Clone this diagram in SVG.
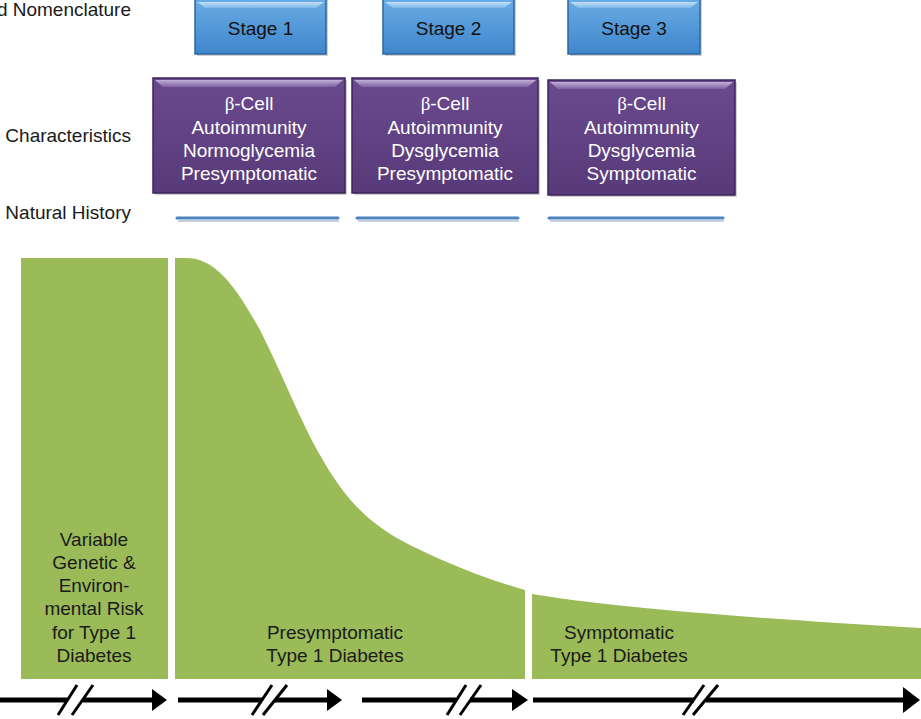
<svg xmlns="http://www.w3.org/2000/svg" width="921" height="719" viewBox="0 0 921 719">
<defs>
<linearGradient id="gBlue" x1="0" y1="0" x2="0" y2="1">
<stop offset="0" stop-color="#6caee6"/>
<stop offset="1" stop-color="#3f86cc"/>
</linearGradient>
<linearGradient id="gBlueHi" x1="0" y1="0" x2="0" y2="1">
<stop offset="0" stop-color="#c4e0f6"/>
<stop offset="1" stop-color="#7ab8ea"/>
</linearGradient>
<linearGradient id="gPurple" x1="0" y1="0" x2="0" y2="1">
<stop offset="0" stop-color="#6a4a8e"/>
<stop offset="1" stop-color="#583a7a"/>
</linearGradient>
<linearGradient id="gPurpleHi" x1="0" y1="0" x2="0" y2="1">
<stop offset="0" stop-color="#c2afd8"/>
<stop offset="1" stop-color="#7d62a0"/>
</linearGradient>
</defs>
<style>
text{font-family:"Liberation Sans",Arial,sans-serif;font-size:19px;}
.lbl{fill:#1a1a1a;text-anchor:end;}
.stage{fill:#111;text-anchor:middle;}
.char{fill:#ffffff;text-anchor:middle;}
.beta{font-family:"Liberation Serif","Times New Roman",serif;}
.gtxt{fill:#1a1a1a;text-anchor:middle;}
.bbox{fill:url(#gBlue);stroke:#2c66a0;stroke-width:1.5;}
.bhi{fill:url(#gBlueHi);}
.pbox{fill:url(#gPurple);stroke:#3b2458;stroke-width:1.5;}
.phi{fill:url(#gPurpleHi);}
.shadow{fill:#000;opacity:0.18;}
.green{fill:#9bbb59;}
.nh{stroke:#4d84bf;stroke-width:3;stroke-linecap:round;fill:none;}
.nhs{stroke:#9fb3c8;stroke-width:2;fill:none;opacity:0.6;}
.ax{stroke:#000;stroke-width:5;fill:none;}
.sl{stroke:#000;stroke-width:3;fill:none;}
.ah{fill:#000;}
</style>

<g id="labels">
<text class="lbl" x="131" y="16">d Nomenclature</text>
<text class="lbl" x="131" y="142">Characteristics</text>
<text class="lbl" x="131" y="219">Natural History</text>
</g>

<g id="stage1">
<rect class="shadow" x="197" y="-2" width="131" height="58"/>
<rect class="bbox" x="195" y="-4" width="131" height="58"/>
<polygon class="bhi" points="197,2 324,2 316,8 205,8"/>
<text class="stage" x="260.5" y="35">Stage 1</text>
</g>
<g id="stage2">
<rect class="shadow" x="385" y="-2" width="131" height="58"/>
<rect class="bbox" x="383" y="-4" width="131" height="58"/>
<polygon class="bhi" points="385,2 512,2 504,8 393,8"/>
<text class="stage" x="448.5" y="35">Stage 2</text>
</g>
<g id="stage3">
<rect class="shadow" x="570" y="-2" width="132" height="58"/>
<rect class="bbox" x="568" y="-4" width="132" height="58"/>
<polygon class="bhi" points="570,2 698,2 690,8 578,8"/>
<text class="stage" x="634" y="35">Stage 3</text>
</g>

<g id="char1">
<rect class="shadow" x="155" y="80" width="192" height="115"/>
<rect class="pbox" x="153" y="78" width="192" height="115"/>
<polygon class="phi" points="155,80 343,80 335,87 163,87"/>
<text class="char" x="249" y="110"><tspan class="beta">β</tspan>-Cell</text>
<text class="char" x="249" y="134">Autoimmunity</text>
<text class="char" x="249" y="157">Normoglycemia</text>
<text class="char" x="249" y="180">Presymptomatic</text>
</g>
<g id="char2">
<rect class="shadow" x="354" y="80" width="186" height="115"/>
<rect class="pbox" x="352" y="78" width="186" height="115"/>
<polygon class="phi" points="354,80 536,80 528,87 362,87"/>
<text class="char" x="445" y="110"><tspan class="beta">β</tspan>-Cell</text>
<text class="char" x="445" y="134">Autoimmunity</text>
<text class="char" x="445" y="157">Dysglycemia</text>
<text class="char" x="445" y="180">Presymptomatic</text>
</g>
<g id="char3">
<rect class="shadow" x="550" y="82" width="187" height="115"/>
<rect class="pbox" x="548" y="80" width="187" height="115"/>
<polygon class="phi" points="550,82 733,82 725,89 558,89"/>
<text class="char" x="641.5" y="110"><tspan class="beta">β</tspan>-Cell</text>
<text class="char" x="641.5" y="134">Autoimmunity</text>
<text class="char" x="641.5" y="157">Dysglycemia</text>
<text class="char" x="641.5" y="180">Symptomatic</text>
</g>

<g id="natural-history">
<line class="nhs" x1="178" y1="221" x2="339" y2="221"/>
<line class="nhs" x1="358" y1="221" x2="519" y2="221"/>
<line class="nhs" x1="550" y1="221" x2="724" y2="221"/>
<line class="nh" x1="177" y1="218" x2="338" y2="218"/>
<line class="nh" x1="357" y1="218" x2="518" y2="218"/>
<line class="nh" x1="549" y1="218" x2="723" y2="218"/>
</g>

<g id="risk">
<rect class="green" x="21" y="258" width="147" height="421"/>
<text class="gtxt" x="94" y="546">Variable</text>
<text class="gtxt" x="94" y="569">Genetic &amp;</text>
<text class="gtxt" x="94" y="592">Environ-</text>
<text class="gtxt" x="94" y="615">mental Risk</text>
<text class="gtxt" x="94" y="639">for Type 1</text>
<text class="gtxt" x="94" y="662">Diabetes</text>
</g>

<g id="presymptomatic">
<path class="green" d="M175,258 H186 C215,258 235,285 260,330 C285,380 300,420 320,455 C345,500 370,525 410,545 C450,565 490,580 525,590 V679 H175 Z"/>
<text class="gtxt" x="335" y="639">Presymptomatic</text>
<text class="gtxt" x="335" y="662">Type 1 Diabetes</text>
</g>

<g id="symptomatic">
<path class="green" d="M532,594 Q640,612 921,628 V679 H532 Z"/>
<text class="gtxt" x="619" y="639">Symptomatic</text>
<text class="gtxt" x="619" y="662">Type 1 Diabetes</text>
</g>

<g id="connectors">
<line class="ax" x1="0" y1="700" x2="67" y2="700"/>
<line class="ax" x1="83" y1="700" x2="154" y2="700"/>
<line class="sl" x1="58" y1="715" x2="77" y2="685"/>
<line class="sl" x1="72" y1="715" x2="93" y2="685"/>
<polygon class="ah" points="152,689 167,700 152,711"/>

<line class="ax" x1="178" y1="700" x2="262" y2="700"/>
<line class="ax" x1="275" y1="700" x2="329" y2="700"/>
<line class="sl" x1="252" y1="715" x2="272" y2="685"/>
<line class="sl" x1="263" y1="715" x2="287" y2="685"/>
<polygon class="ah" points="327,689 342,700 327,711"/>

<line class="ax" x1="362" y1="700" x2="456" y2="700"/>
<line class="ax" x1="470" y1="700" x2="514" y2="700"/>
<line class="sl" x1="447" y1="715" x2="466" y2="685"/>
<line class="sl" x1="460" y1="715" x2="481" y2="685"/>
<polygon class="ah" points="512,689 528,700 512,711"/>

<line class="ax" x1="533" y1="700" x2="694" y2="700"/>
<line class="ax" x1="706" y1="700" x2="905" y2="700"/>
<line class="sl" x1="683" y1="715" x2="704" y2="685"/>
<line class="sl" x1="693" y1="715" x2="718" y2="685"/>
<polygon class="ah" points="903,687 920,700 903,713"/>
</g>
</svg>
